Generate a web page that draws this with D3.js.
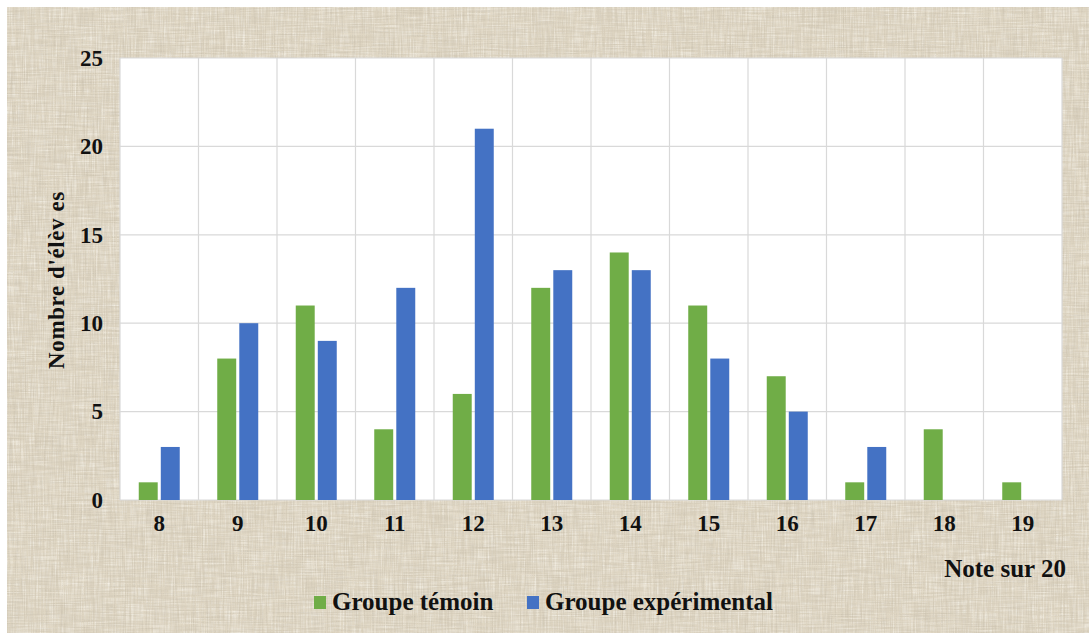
<!DOCTYPE html>
<html>
<head>
<meta charset="utf-8">
<script src="https://cdn.jsdelivr.net/npm/d3@7/dist/d3.min.js"></script>
<style>
  html, body { margin: 0; padding: 0; background: #ffffff; }
  svg { display: block; }
</style>
</head>
<body>
<svg id="chart" width="1089" height="633"></svg>
<script>
// Grades out of 20 and number of pupils per grade, per group
const grades = ["8", "9", "10", "11", "12", "13", "14", "15", "16", "17", "18", "19"];
const groupeTemoin = [1, 8, 11, 4, 6, 12, 14, 11, 7, 1, 4, 1];
const groupeExperimental = [3, 10, 9, 12, 21, 13, 13, 8, 5, 3, 0, 0];
const seriesNames = ["Groupe témoin", "Groupe expérimental"];
const seriesColors = ["#70ad47", "#4472c4"];
const yTicks = [0, 5, 10, 15, 20, 25];

const W = 1089, H = 633;
const margin = { left: 120, right: 27, top: 58, bottom: 133 };
const innerW = W - margin.left - margin.right;
const innerH = H - margin.top - margin.bottom;
const FONT = "'Liberation Serif', 'Times New Roman', serif";

const svg = d3.select("#chart");
const defs = svg.append("defs");

// Woven linen backdrop: base tone plus stretched turbulence for the threads
function threadFilter(id, fx, fy, seedA, seedB, matrix) {
  const f = defs.append("filter").attr("id", id)
    .attr("x", 0).attr("y", 0).attr("width", "100%").attr("height", "100%");
  f.append("feTurbulence").attr("type", "fractalNoise")
    .attr("baseFrequency", `${fx} ${fy}`).attr("numOctaves", 2).attr("seed", seedA).attr("result", "v");
  f.append("feTurbulence").attr("type", "fractalNoise")
    .attr("baseFrequency", `${fy} ${fx}`).attr("numOctaves", 2).attr("seed", seedB).attr("result", "h");
  f.append("feComposite").attr("in", "v").attr("in2", "h")
    .attr("operator", "arithmetic").attr("k2", 0.5).attr("k3", 0.5).attr("result", "n");
  f.append("feColorMatrix").attr("in", "n").attr("type", "matrix")
    .attr("values", matrix).attr("result", "t");
  f.append("feComposite").attr("in", "t").attr("in2", "SourceGraphic").attr("operator", "in");
}
threadFilter("linen", 0.9, 0.03, 3, 7,
  "0 0 0 0 0.48  0 0 0 0 0.43  0 0 0 0 0.34  -2.4 0 0 0 1.5");
threadFilter("linenLight", 0.6, 0.04, 11, 19,
  "0 0 0 0 0.96  0 0 0 0 0.94  0 0 0 0 0.88  2.4 0 0 0 -1.0");

svg.append("rect").attr("x", 7).attr("y", 7).attr("width", W - 7).attr("height", H - 7)
  .attr("fill", "#dfd6c3");
svg.append("rect").attr("x", 7).attr("y", 7).attr("width", W - 7).attr("height", H - 7)
  .attr("fill", "#dfd6c3").attr("filter", "url(#linenLight)").attr("opacity", 0.75);
svg.append("rect").attr("x", 7).attr("y", 7).attr("width", W - 7).attr("height", H - 7)
  .attr("fill", "#dfd6c3").attr("filter", "url(#linen)").attr("opacity", 0.45);

const g = svg.append("g").attr("transform", `translate(${margin.left},${margin.top})`);

// Plot area
g.append("rect").attr("width", innerW).attr("height", innerH).attr("fill", "#ffffff");

const x = d3.scaleBand().domain(grades).range([0, innerW]).paddingInner(0).paddingOuter(0);
const y = d3.scaleLinear().domain([0, 25]).range([innerH, 0]);

// Horizontal gridlines
g.append("g").selectAll("line").data(yTicks).join("line")
  .attr("x1", 0).attr("x2", innerW)
  .attr("y1", d => y(d)).attr("y2", d => y(d))
  .attr("stroke", "#d9d9d9").attr("stroke-width", 1.2);

// Vertical gridlines at category boundaries
const bounds = grades.map(c => x(c)).concat([innerW]);
g.append("g").selectAll("line").data(bounds).join("line")
  .attr("x1", d => d).attr("x2", d => d)
  .attr("y1", 0).attr("y2", innerH)
  .attr("stroke", "#d9d9d9").attr("stroke-width", 1.2);

// Grouped bars
const sub = d3.scaleBand().domain([0, 1]).range([0, 41]).paddingInner(0.14);
const off = (x.bandwidth() - 41) / 2;
const series = [groupeTemoin, groupeExperimental];
series.forEach((vals, si) => {
  g.append("g").selectAll("rect").data(grades).join("rect")
    .attr("x", (c) => x(c) + off + sub(si))
    .attr("y", (c, i) => y(vals[i]))
    .attr("width", sub.bandwidth())
    .attr("height", (c, i) => innerH - y(vals[i]))
    .attr("fill", seriesColors[si]);
});

// Axes
const yAxis = d3.axisLeft(y).tickValues(yTicks).tickSize(0).tickPadding(17);
const ya = g.append("g").call(yAxis);
ya.select(".domain").remove();
ya.selectAll("text").attr("font-family", FONT).attr("font-size", 23)
  .attr("font-weight", "bold").attr("fill", "#111");

const xAxis = d3.axisBottom(x).tickSize(0).tickPadding(15);
const xa = g.append("g").attr("transform", `translate(0,${innerH})`).call(xAxis);
xa.select(".domain").remove();
xa.selectAll("text").attr("font-family", FONT).attr("font-size", 23)
  .attr("font-weight", "bold").attr("fill", "#111");

// Axis titles
svg.append("text")
  .attr("transform", `translate(64,280) rotate(-90)`)
  .attr("text-anchor", "middle")
  .attr("font-family", FONT).attr("font-size", 23).attr("font-weight", "bold")
  .attr("letter-spacing", 0.6)
  .attr("fill", "#111").text("Nombre d'élèv es");

svg.append("text")
  .attr("x", 1066).attr("y", 577).attr("text-anchor", "end")
  .attr("font-family", FONT).attr("font-size", 25).attr("font-weight", "bold")
  .attr("fill", "#111").text("Note sur 20");

// Legend
const legendItems = [
  { name: seriesNames[0], color: seriesColors[0], x: 314 },
  { name: seriesNames[1], color: seriesColors[1], x: 527 }
];
const lg = svg.append("g");
legendItems.forEach(it => {
  lg.append("rect").attr("x", it.x).attr("y", 596).attr("width", 12).attr("height", 13)
    .attr("fill", it.color);
  lg.append("text").attr("x", it.x + 18).attr("y", 610)
    .attr("font-family", FONT).attr("font-size", 25).attr("font-weight", "bold")
    .attr("fill", "#111").text(it.name);
});
</script>
</body>
</html>
